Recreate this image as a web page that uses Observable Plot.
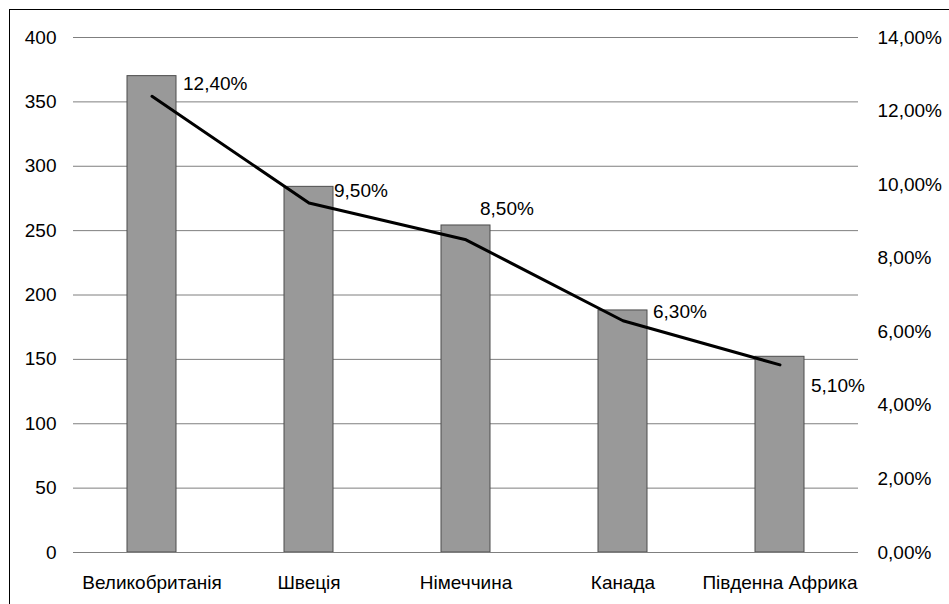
<!DOCTYPE html>
<html>
<head>
<meta charset="utf-8">
<script src="https://cdn.jsdelivr.net/npm/d3@7"></script>
<script src="https://cdn.jsdelivr.net/npm/@observablehq/plot@0.6"></script>
<style>
  html, body { margin: 0; padding: 0; background: #fff; overflow: hidden; }
  #wrap { position: relative; width: 949px; height: 604px; overflow: hidden; }
  #frame { position: absolute; left: 9px; top: 9px; width: 960px; height: 620px; border: 1px solid #000; box-sizing: border-box; pointer-events: none; }
  #chart { position: absolute; left: 0; top: 0; }
</style>
</head>
<body>
<div id="wrap"><div id="chart"></div><div id="frame"></div></div>
<script>
const categories = ["Великобританія", "Швеція", "Німеччина", "Канада", "Південна Африка"];
const barValues = [370, 284, 254, 188, 152];
const pctValues = [12.4, 9.5, 8.5, 6.3, 5.1];
const leftTicks = [0, 50, 100, 150, 200, 250, 300, 350, 400];
const rightTicks = [0, 2, 4, 6, 8, 10, 12, 14];
const rightTickLabels = ["0,00%", "2,00%", "4,00%", "6,00%", "8,00%", "10,00%", "12,00%", "14,00%"];
const pctLabels = ["12,40%", "9,50%", "8,50%", "6,30%", "5,10%"];
// label placement offsets (layout only)
const labelDx = [31, 25, 14, 30, 31];
const labelDy = [-12, -12, -31, -9, 21];

const leftMax = 400, rightMax = 14;
const toLeft = p => p * leftMax / rightMax;

const data = categories.map((c, i) => ({cat: c, v: barValues[i], p: pctValues[i], lab: pctLabels[i], i}));

const font = "Liberation Sans, Arial, Helvetica, sans-serif";
const fs = 19;

const chart = Plot.plot({
  width: 949,
  height: 604,
  marginLeft: 73,
  marginRight: 91,
  marginTop: 37,
  marginBottom: 52,
  style: {fontFamily: font, fontSize: fs + "px", color: "#000", background: "transparent"},
  x: {domain: categories, paddingInner: 0.688, paddingOuter: 0.344, label: null, axis: null},
  y: {domain: [0, leftMax], label: null, axis: null},
  marks: [
    Plot.gridY(leftTicks, {stroke: "#7f7f7f", strokeOpacity: 1, strokeWidth: 1}),
    Plot.axisY({ticks: leftTicks, tickSize: 0, tickPadding: 17, label: null, fontSize: fs, tickFormat: d => String(d)}),
    Plot.axisY({anchor: "right", ticks: rightTicks.map(toLeft), tickSize: 0, tickPadding: 19, label: null, fontSize: fs,
      tickFormat: (d, i) => rightTickLabels[i], textAnchor: "start"}),
    Plot.axisX({domain: categories, tickSize: 0, tickPadding: 23, label: null, fontSize: fs}),
    Plot.barY(data, {x: "cat", y: "v", fill: "#999999", stroke: "#4d4d4d", strokeWidth: 1}),
    Plot.ruleY([0], {stroke: "#7f7f7f"}),
    Plot.line(data, {x: "cat", y: d => toLeft(d.p), stroke: "#000", strokeWidth: 3}),
    ...data.map((d, i) => Plot.text([d], {x: "cat", y: e => toLeft(e.p), text: "lab", textAnchor: "start",
      dx: labelDx[i], dy: labelDy[i], fontSize: fs, fill: "#000"}))
  ]
});
document.getElementById("chart").appendChild(chart);
</script>
</body>
</html>
